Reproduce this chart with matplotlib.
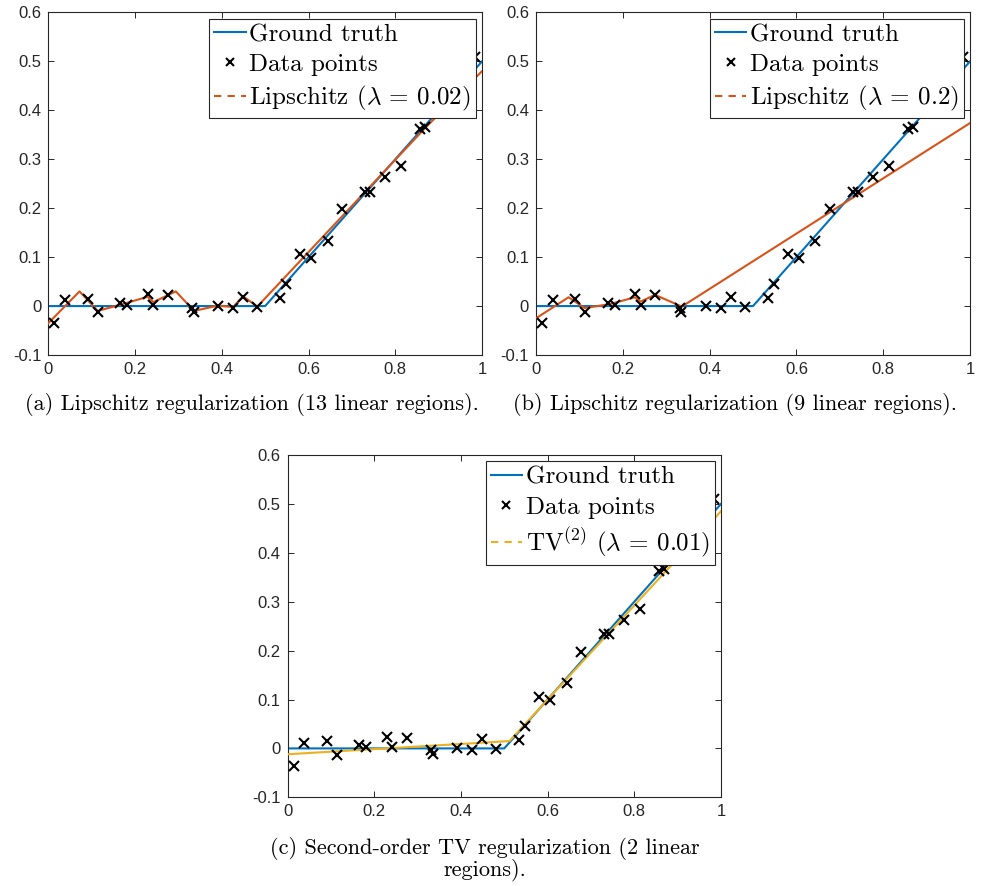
import matplotlib
matplotlib.use("Agg")
import matplotlib.pyplot as plt
from matplotlib.lines import Line2D
import numpy as np

plt.rcParams["mathtext.fontset"] = "cm"
plt.rcParams["axes.unicode_minus"] = False
plt.rcParams["font.family"] = ["Liberation Sans", "DejaVu Sans"]

# Noisy samples of the ground-truth ReLU-like function
data_x = [0.014, 0.039, 0.091, 0.114, 0.166, 0.181, 0.229, 0.242, 0.275, 0.331,
          0.335, 0.391, 0.426, 0.449, 0.482, 0.535, 0.549, 0.581, 0.605, 0.644,
          0.678, 0.731, 0.741, 0.777, 0.814, 0.857, 0.869, 0.985]
data_y = [-0.035, 0.012, 0.015, -0.013, 0.006, 0.003, 0.024, 0.003, 0.022, -0.003,
          -0.012, 0.000, -0.003, 0.019, -0.001, 0.017, 0.045, 0.106, 0.098, 0.133,
          0.198, 0.234, 0.234, 0.263, 0.286, 0.362, 0.366, 0.510]

# Ground truth: f(x) = max(0, x - 0.5)
gt_x = [0.0, 0.5, 1.0]
gt_y = [0.0, 0.0, 0.5]

# Lipschitz-regularized fit, lambda = 0.02 (13 linear regions)
lip1_x = [0.0, 0.072, 0.114, 0.179, 0.229, 0.242, 0.294, 0.336, 0.391, 0.426,
          0.449, 0.482, 0.870, 1.0]
lip1_y = [-0.035, 0.030, -0.010, 0.006, 0.019, 0.008, 0.030, -0.010, 0.001, -0.002,
          0.020, -0.001, 0.365, 0.480]

# Lipschitz-regularized fit, lambda = 0.2 (9 linear regions)
lip2_x = [0.0, 0.075, 0.112, 0.170, 0.228, 0.241, 0.274, 0.336, 1.0]
lip2_y = [-0.025, 0.018, -0.004, 0.004, 0.018, 0.009, 0.023, -0.001, 0.374]

# Second-order TV fit, lambda = 0.01 (2 linear regions)
tv_x = [0.0, 0.512, 1.0]
tv_y = [-0.012, 0.015, 0.485]

xticks = [0, 0.2, 0.4, 0.6, 0.8, 1]
xticklabels = ["0", "0.2", "0.4", "0.6", "0.8", "1"]
yticks = [-0.1, 0, 0.1, 0.2, 0.3, 0.4, 0.5, 0.6]
yticklabels = ["-0.1", "0", "0.1", "0.2", "0.3", "0.4", "0.5", "0.6"]

captions = ["(a) Lipschitz regularization (13 linear regions).",
            "(b) Lipschitz regularization (9 linear regions).",
            "(c) Second-order TV regularization (2 linear\nregions)."]

BLUE = "#0072BD"
ORANGE = "#D95319"
YELLOW = "#EDB120"
SPINE = "#262626"

W, H = 982, 886
fig = plt.figure(figsize=(W / 100, H / 100), dpi=100)


def px_axes(left, top, right, bottom):
    return fig.add_axes([left / W, 1 - bottom / H, (right - left) / W, (bottom - top) / H])


def panel(ax, fit_x, fit_y, fit_color, fit_label):
    ax.plot(gt_x, gt_y, color=BLUE, lw=1.5, zorder=2)
    ax.plot(fit_x, fit_y, color=fit_color, lw=1.5, zorder=3)
    ax.plot(data_x, data_y, ls="none", marker="x", color="black",
            ms=7, mew=1.5, zorder=4)
    ax.set_xlim(0, 1)
    ax.set_ylim(-0.1, 0.6)
    ax.set_xticks(xticks)
    ax.set_xticklabels(xticklabels)
    ax.set_yticks(yticks)
    ax.set_yticklabels(yticklabels)
    ax.tick_params(direction="in", top=True, right=True, length=4, width=0.7,
                   color=SPINE, labelsize=12, labelcolor="#262626", pad=5)
    for s in ax.spines.values():
        s.set_color(SPINE)
        s.set_linewidth(0.8)
    handles = [Line2D([], [], color=BLUE, lw=1.5),
               Line2D([], [], ls="none", marker="x", color="black", ms=6, mew=1.5),
               Line2D([], [], color=fit_color, lw=1.5, ls=(0, (3.5, 3)))]
    labels = ["Ground truth", "Data points", fit_label]
    leg = ax.legend(handles, labels, loc="upper right", fancybox=False,
                    framealpha=1, edgecolor=SPINE, borderaxespad=0.25,
                    handlelength=1.25, handletextpad=0.15, labelspacing=0.3,
                    borderpad=0.2, prop={"family": "cmr10", "size": 18})
    leg.get_frame().set_linewidth(0.8)


ax_a = px_axes(48.3, 12.5, 482, 355)
ax_b = px_axes(536, 12.5, 970, 355)
ax_c = px_axes(287.5, 455, 721, 797.3)

panel(ax_a, lip1_x, lip1_y, ORANGE, r"Lipschitz ($\lambda$ = 0.02)")
panel(ax_b, lip2_x, lip2_y, ORANGE, r"Lipschitz ($\lambda$ = 0.2)")
panel(ax_c, tv_x, tv_y, YELLOW, r"TV$^{(2)}$ ($\lambda$ = 0.01)")

cap_kw = dict(ha="center", va="center", family="cmr10", fontsize=16.0,
              linespacing=0.98)
fig.text(252 / W, 1 - 404 / H, captions[0], **cap_kw)
fig.text(735 / W, 1 - 404 / H, captions[1], **cap_kw)
fig.text(485 / W, 1 - 859 / H, captions[2], **cap_kw)

fig.savefig("out.png", dpi=100)
